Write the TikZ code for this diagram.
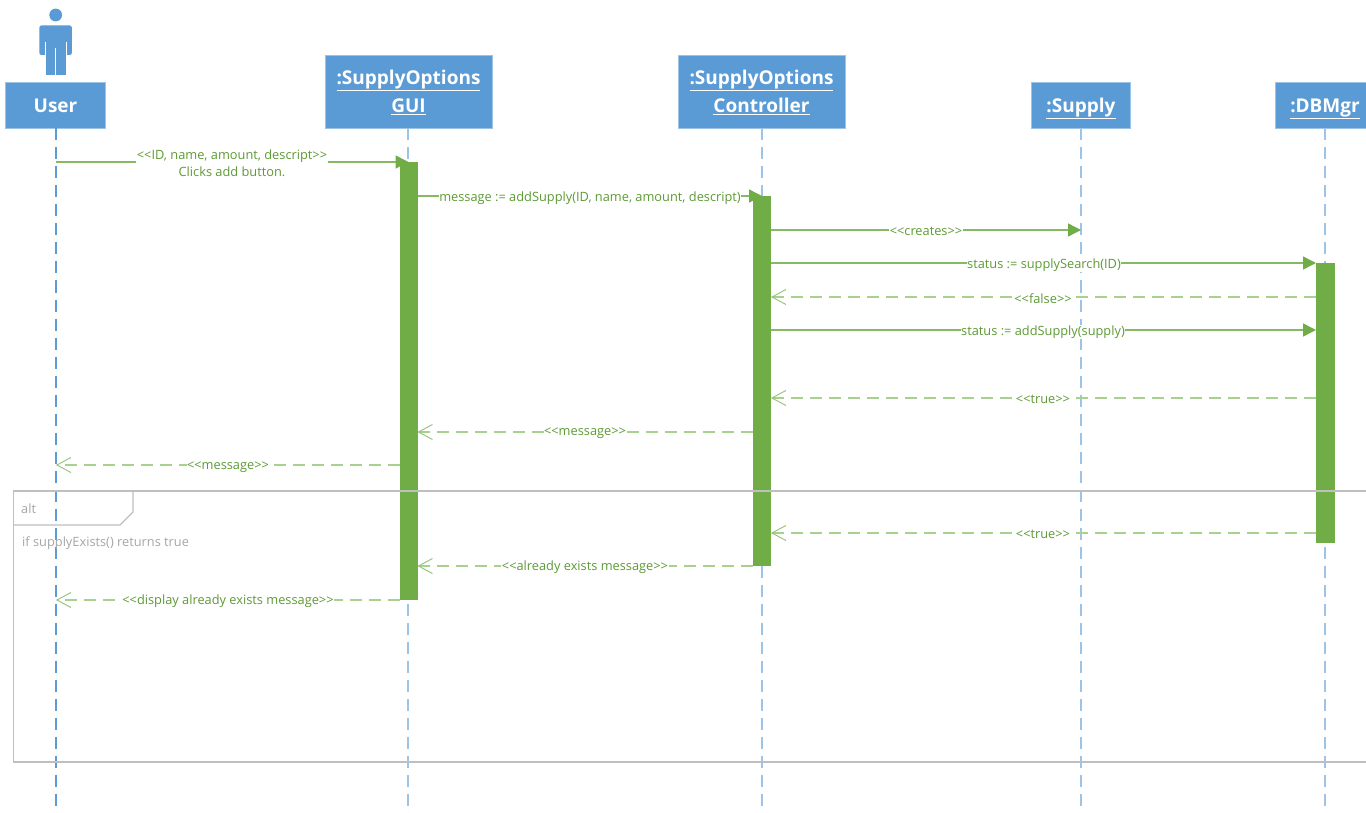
\documentclass[tikz,border=0pt]{standalone}
\usepackage{fontspec}
\setmainfont{Open Sans}
\usetikzlibrary{arrows.meta}
\definecolor{hblue}{HTML}{5B9BD5}
\definecolor{lblue}{HTML}{9DC3E6}
\definecolor{bgreen}{HTML}{70AD47}
\definecolor{lgreen}{HTML}{A9D18E}
\definecolor{tgreen}{HTML}{5E9A35}
\definecolor{fgray}{HTML}{BFBFBF}
\definecolor{tgray}{HTML}{A6A6A6}
\tikzset{
  x=1pt,y=-1pt,
  headbox/.style={fill=hblue,draw=lblue,line width=0.6pt,text=white,font=\fontsize{19}{28}\selectfont\bfseries,align=center,inner sep=0pt,outer sep=0pt,anchor=north west},
  life/.style={draw=lblue,line width=1.5pt,dash pattern=on 12pt off 7pt},
  bar/.style={fill=bgreen,draw=none,inner sep=0pt,outer sep=0pt,anchor=north west},
  msg/.style={draw=bgreen!85!white,line width=1.4pt,-{Triangle[length=13pt,width=13pt,fill=bgreen,color=bgreen]}},
  ret/.style={draw=lgreen,line width=1.6pt,dash pattern=on 12pt off 7pt,-{Straight Barb[length=14pt,width=15pt,line width=0.9pt,color=bgreen!75!white]}},
  lbl/.style={fill=white,text=tgreen,font=\fontsize{12.8}{17.5}\selectfont,inner sep=0.5pt,align=center},
  frame/.style={draw=fgray,line width=1.5pt},
  ftext/.style={text=tgray,font=\fontsize{12.8}{14}\selectfont,inner sep=0pt,anchor=west}
}
\begin{document}
\begin{tikzpicture}
\useasboundingbox[fill=white] (0,0) rectangle (1366,813);
% actor
\fill[hblue] (55.7,15) circle (6.4);
\fill[hblue,rounded corners=2pt] (39.4,25.5) rectangle (71.8,55);
\fill[hblue] (46,40) rectangle (65.5,75);
\draw[white,line width=0.8pt] (45.5,42) -- (45.5,55) (66,42) -- (66,55) (55.7,48) -- (55.7,75);
% heads
\node[headbox,minimum width=100pt,minimum height=46pt] (user) at (5.5,82.5) {User};
\node[headbox,minimum width=167pt,minimum height=73pt] (gui) at (325,55.5) {\underline{:SupplyOptions}\\\underline{GUI}};
\node[headbox,minimum width=167pt,minimum height=73pt] (ctrl) at (678,55.5) {\underline{:SupplyOptions}\\\underline{Controller}};
\node[headbox,minimum width=99pt,minimum height=46pt] (supply) at (1031.5,82.5) {\vphantom{User}\raisebox{0pt}[0pt][0pt]{\underline{:Supply}}};
\node[headbox,minimum width=100pt,minimum height=46pt] (db) at (1275,82.5) {\vphantom{User}\raisebox{0pt}[0pt][0pt]{\underline{:DBMgr}}};
% lifeline ends
\coordinate (userend) at (56,820);
\coordinate (guiend) at (408,820);
\coordinate (ctrlend) at (762,820);
\coordinate (supplyend) at (1081,820);
\coordinate (dbend) at (1325,820);
\draw[life,draw=hblue] (user.south -| userend) -- (userend);
\draw[life] (gui.south -| guiend) -- (guiend);
\draw[life] (ctrl.south -| ctrlend) -- (ctrlend);
\draw[life] (supply.south) -- (supplyend);
\draw[life] (db.south) -- (dbend);
% activation bars
\node[bar,minimum width=18pt,minimum height=438pt] (guibar) at (399.5,162) {};
\node[bar,minimum width=18pt,minimum height=370pt] (ctrlbar) at (753,196) {};
\node[bar,minimum width=19pt,minimum height=280pt] (dbbar) at (1316,263) {};
% frame
\draw[frame] (1366,491) -- (13.5,491) -- (13.5,762) -- (1366,762);
\draw[frame,line width=1.2pt] (13.5,525) -- (120,525) -- (133,512) -- (133,491);
\node[ftext] (alt) at (21,508.5) {alt};
\node[ftext] (cond) at (22,543.5) {if supplyExists() returns true};
% messages
\draw[msg] (userend |- 0,162) -- (guibar.center |- 0,162);
\draw[msg] (guibar.east |- 0,196) -- (ctrlbar.center |- 0,196);
\draw[msg] (ctrlbar.east |- 0,230) -- (supply.south |- 0,230);
\draw[msg] (ctrlbar.east |- 0,263) -- (dbbar.west |- 0,263);
\draw[ret] (dbbar.west |- 0,297) -- (ctrlbar.east |- 0,297);
\draw[msg] (ctrlbar.east |- 0,330) -- (dbbar.west |- 0,330);
\draw[ret] (dbbar.west |- 0,398) -- (ctrlbar.east |- 0,398);
\draw[ret] (ctrlbar.west |- 0,432) -- (guibar.east |- 0,432);
\draw[ret] (guibar.west |- 0,465) -- (userend |- 0,465);
\draw[ret] (dbbar.west |- 0,533) -- (ctrlbar.east |- 0,533);
\draw[ret] (ctrlbar.west |- 0,566) -- (guibar.east |- 0,566);
\draw[ret] (guibar.west |- 0,600) -- (userend |- 0,600);
% labels
\node[lbl] (l1) at (232,163) {<{}<ID, name, amount, descript>{}>\\Clicks add button.};
\node[lbl] (l2) at (590,198) {message := addSupply(ID, name, amount, descript)};
\node[lbl] (l3) at (926,231.5) {<{}<creates>{}>};
\node[lbl] (l4) at (1044,265.5) {status := supplySearch(ID)};
\node[lbl] (l5) at (1043,298.5) {<{}<false>{}>};
\node[lbl] (l6) at (1043,332) {status := addSupply(supply)};
\node[lbl] (l7) at (1043,399.5) {<{}<true>{}>};
\node[lbl] (l8) at (585,433.5) {<{}<message>{}>};
\node[lbl] (l9) at (228,467) {<{}<message>{}>};
\node[lbl] (l10) at (1043,534.5) {<{}<true>{}>};
\node[lbl] (l11) at (585,567.5) {<{}<already exists message>{}>};
\node[lbl] (l12) at (228,601.5) {<{}<display already exists message>{}>};
\end{tikzpicture}
\end{document}
